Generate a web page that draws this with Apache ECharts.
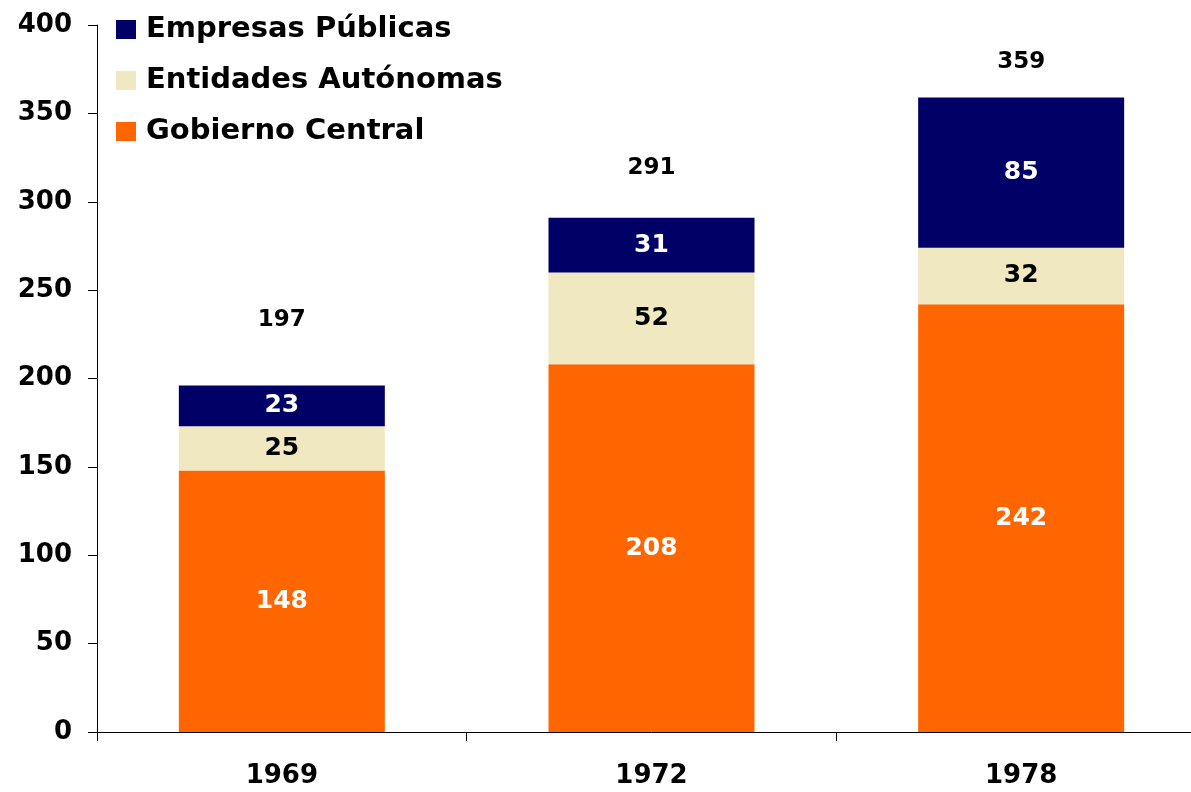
<!DOCTYPE html>
<html>
<head>
<meta charset="utf-8">
<script src="https://cdn.jsdelivr.net/npm/echarts@6/dist/echarts.min.js"></script>
<style>
  html, body { margin: 0; padding: 0; background: #fff; overflow: hidden; }
  #chart { width: 1206px; height: 792px; }
</style>
</head>
<body>
<div id="chart"></div>
<script>
const years = ['1969', '1972', '1978'];
const gobiernoCentral = [148, 208, 242];
const entidadesAutonomas = [25, 52, 32];
const empresasPublicas = [23, 31, 85];
const totals = [197, 291, 359];

// how far each total label sits above its bar (px)
const totalLift = [47, 33, 18];

const font = 'DejaVu Sans, Liberation Sans, sans-serif';
const chart = echarts.init(document.getElementById('chart'));

const segLabel = (color) => ({
  show: true,
  position: 'inside',
  color: color,
  fontFamily: font,
  fontWeight: 'bold',
  fontSize: 25
});

const option = {
  animation: false,
  backgroundColor: '#fff',
  // the category axis runs a bit past the right edge of the window
  grid: { left: 97, right: 0, top: 25, bottom: 60 },
  legend: {
    orient: 'vertical',
    left: 111,
    top: 10,
    itemWidth: 20,
    itemHeight: 19,
    itemGap: 22,
    icon: 'rect',
    data: ['Empresas Públicas', 'Entidades Autónomas', 'Gobierno Central'],
    textStyle: {
      fontFamily: font,
      fontWeight: 'bold',
      fontSize: 29,
      lineHeight: 29,
      padding: [0, 0, 0, 5],
      color: '#000'
    }
  },
  xAxis: {
    type: 'category',
    data: years,
    axisLine: { lineStyle: { color: '#000', width: 1 } },
    axisTick: { show: true, length: 9, lineStyle: { color: '#000' } },
    axisLabel: {
      color: '#000',
      fontFamily: font,
      fontWeight: 'bold',
      fontSize: 26,
      margin: 31
    }
  },
  yAxis: {
    type: 'value',
    min: 0,
    max: 400,
    interval: 50,
    splitLine: { show: false },
    axisLine: { show: true, lineStyle: { color: '#000', width: 1 } },
    axisTick: { show: true, length: 9, lineStyle: { color: '#000' } },
    axisLabel: {
      color: '#000',
      fontFamily: font,
      fontWeight: 'bold',
      fontSize: 26,
      margin: 25
    }
  },
  series: [
    {
      name: 'Gobierno Central',
      type: 'bar',
      stack: 'total',
      barWidth: 206,
      itemStyle: { color: '#FF6600' },
      label: segLabel('#fff'),
      data: gobiernoCentral
    },
    {
      name: 'Entidades Autónomas',
      type: 'bar',
      stack: 'total',
      barWidth: 206,
      itemStyle: { color: '#F0E8C0' },
      label: segLabel('#000'),
      data: entidadesAutonomas
    },
    {
      name: 'Empresas Públicas',
      type: 'bar',
      stack: 'total',
      barWidth: 206,
      itemStyle: { color: '#000066' },
      label: segLabel('#fff'),
      data: empresasPublicas
    },
    {
      name: 'Total',
      type: 'line',
      symbol: 'circle',
      symbolSize: 1,
      itemStyle: { color: 'rgba(0,0,0,0)' },
      lineStyle: { width: 0, opacity: 0 },
      silent: true,
      data: totals.map((v, i) => ({
        value: v,
        label: { offset: [0, -totalLift[i]] }
      })),
      label: {
        show: true,
        position: 'top',
        distance: 5,
        color: '#000',
        fontFamily: font,
        fontWeight: 'bold',
        fontSize: 23
      }
    }
  ]
};

chart.setOption(option);
</script>
</body>
</html>
